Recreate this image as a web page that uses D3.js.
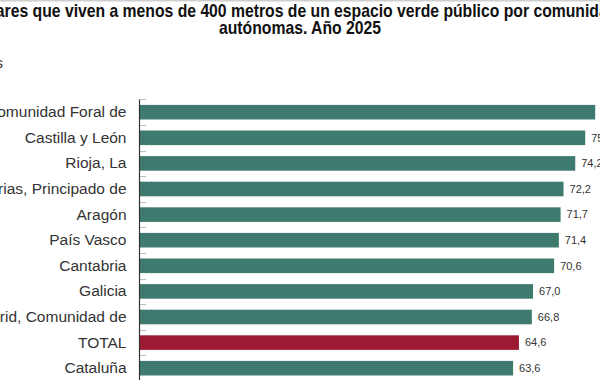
<!DOCTYPE html>
<html>
<head>
<meta charset="utf-8">
<script src="https://cdn.jsdelivr.net/npm/d3@7"></script>
<style>
  html, body { margin: 0; padding: 0; background: #fff; overflow: hidden; }
  svg { display: block; font-family: "Liberation Sans", Arial, sans-serif; }
</style>
</head>
<body>
<svg id="chart" width="600" height="380"></svg>
<script>
const titleLine1 = "Hogares que viven a menos de 400 metros de un espacio verde público por comunidades";
const titleLine2 = "autónomas. Año 2025";
const unitLabel = "Porcentajes";
const categories = [
  "Navarra, Comunidad Foral de",
  "Castilla y León",
  "Rioja, La",
  "Asturias, Principado de",
  "Aragón",
  "País Vasco",
  "Cantabria",
  "Galicia",
  "Madrid, Comunidad de",
  "TOTAL",
  "Cataluña"
];
const values = [77.6, 75.9, 74.2, 72.2, 71.7, 71.4, 70.6, 67.0, 66.8, 64.6, 63.6];
const highlight = "TOTAL";

(function () {
const svg = d3.select("#chart");
const W = 600, H = 380;

// top border
svg.append("line").attr("x1", 0).attr("x2", W).attr("y1", 0.5).attr("y2", 0.5)
  .attr("stroke", "#cfcfcf").attr("stroke-width", 2);

// title (slightly condensed bold face)
const tg = svg.append("g").attr("transform", "translate(300,0) scale(0.9,1)");
tg.append("text").attr("x", 0).attr("y", 17).attr("text-anchor", "middle")
  .attr("font-size", 17.5).attr("font-weight", "bold").attr("fill", "#111").text(titleLine1);
tg.append("text").attr("x", 0).attr("y", 34.5).attr("text-anchor", "middle")
  .attr("font-size", 17.5).attr("font-weight", "bold").attr("fill", "#111").text(titleLine2);

svg.append("text").attr("x", 3).attr("y", 67.5).attr("text-anchor", "end")
  .attr("font-size", 15).attr("fill", "#333").text(unitLabel);

// scales
const x = d3.scaleLinear().domain([0, 80]).range([140, 140 + 80 * 5.866]);
const step = 25.6;
const pad = 0.43;
const y0 = 99.4;
const y = d3.scaleBand().domain(categories)
  .range([y0, y0 + categories.length * step])
  .paddingInner(pad).paddingOuter(pad / 2);

// bars
svg.append("g").selectAll("rect").data(categories).join("rect")
  .attr("x", x(0))
  .attr("y", d => y(d))
  .attr("width", (d, i) => x(values[i]) - x(0))
  .attr("height", y.bandwidth())
  .attr("fill", d => d === highlight ? "#9d1b32" : "#3f7a6e");

// value labels
svg.append("g").selectAll("text").data(categories).join("text")
  .attr("x", (d, i) => x(values[i]) + 6)
  .attr("y", d => y(d) + y.bandwidth() / 2)
  .attr("dy", "0.35em")
  .attr("font-size", 11)
  .attr("fill", "#333")
  .text((d, i) => values[i].toFixed(1).replace(".", ","));

// y axis with category labels
const axis = svg.append("g").attr("transform", `translate(${x(0) - 0.5},0)`)
  .call(d3.axisLeft(y).tickSize(0).tickPadding(13));
axis.select(".domain").attr("stroke", "#333").attr("stroke-width", 1.2)
  .attr("d", `M0,${y0}V${H + 20}`);
axis.selectAll(".tick text").attr("font-size", 15.5).attr("fill", "#333")
  .attr("font-family", "Liberation Sans, Arial, sans-serif");

// boundary tick marks (between categories)
const bounds = categories.map(d => y(d) - y.step() * pad / 2).concat([y0 + categories.length * step]);
svg.append("g").selectAll("line").data(bounds).join("line")
  .attr("x1", x(0)).attr("x2", x(0) + 6)
  .attr("y1", d => Math.round(d) + 0.5).attr("y2", d => Math.round(d) + 0.5)
  .attr("stroke", "#bbb").attr("stroke-width", 1);
})();
</script>
</body>
</html>
